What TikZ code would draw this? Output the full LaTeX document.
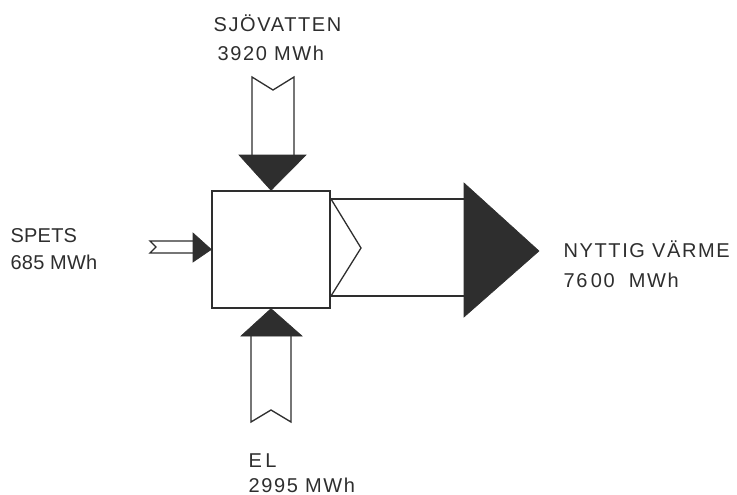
\documentclass[tikz,border=0pt]{standalone}
\usepackage{fontspec}
\newfontfamily\lab[LetterSpace=8]{Liberation Sans}
\newfontfamily\labtight[LetterSpace=1]{Liberation Sans}
\definecolor{ink}{HTML}{2E2E2E}
\begin{document}
\begin{tikzpicture}[x=1pt,y=-1pt, line width=1.3pt,
  lbl/.style={font=\lab\fontsize{20}{24}\selectfont, inner sep=0, anchor=base west, text=ink},
  lblt/.style={font=\labtight\fontsize{20}{24}\selectfont, inner sep=0, anchor=base west, text=ink},
  head/.style={fill=ink, draw=ink, line width=0.6pt, line join=miter},
  shaft/.style={draw=ink, line join=miter}]
\useasboundingbox (0,0) rectangle (737,495);
\fill[white] (0,0) rectangle (737,495);
% central box
\node[draw=ink, minimum width=118pt, minimum height=117pt, inner sep=0] (box) at (271,249.5) {};
% top inflow (SJOVATTEN)
\coordinate (tA) at (252,155); \coordinate (tB) at (294,155);
\draw[shaft] (tA) -- (252,77) -- (273,90) -- (294,77) -- (tB);
\path[head] (239,155) -- (306,155) -- (box.north) -- cycle;
% bottom inflow (EL)
\coordinate (bA) at (251,336); \coordinate (bB) at (291,336);
\draw[shaft] (bA) -- (251,422) -- (271,410) -- (291,422) -- (bB);
\path[head] (241,336) -- (302,336) -- (box.south) -- cycle;
% left inflow (SPETS)
\coordinate (lA) at (193,241); \coordinate (lB) at (193,253);
\draw[shaft] (lA) -- (150,241) -- (156,247) -- (150,253) -- (lB);
\path[head] (193,233) -- (193,262) -- (box.west) -- cycle;
% right outflow (NYTTIG VARME)
\coordinate (rT) at (331,199); \coordinate (rB) at (331,296);
\coordinate (rT2) at (464,199); \coordinate (rB2) at (464,296);
\draw[shaft] (rT) -- (rT2);
\draw[shaft] (rB) -- (rB2);
\draw[shaft] (rT) -- (361,248) -- (rB);
\path[head] (464,183) -- (539,251) -- (464,317) -- cycle;
% labels
\node[lbl] (sj1) at (213,32) {SJÖVATTEN};
\node[lbl] (sj2) at (217,61) {3920 MWh};
\node[lblt] (sp1) at (10,242) {SPETS};
\node[lblt] (sp2) at (10,269) {685 MWh};
\node[lbl] (ny1) at (563,257) {NYTTIG VÄRME};
\node[lbl] (ny2) at (563,287) {76\,00 \ MWh};
\node[lbl] (el1) at (248,467) {E\,L};
\node[lbl] (el2) at (248,492) {2995 MWh};
\end{tikzpicture}
\end{document}
